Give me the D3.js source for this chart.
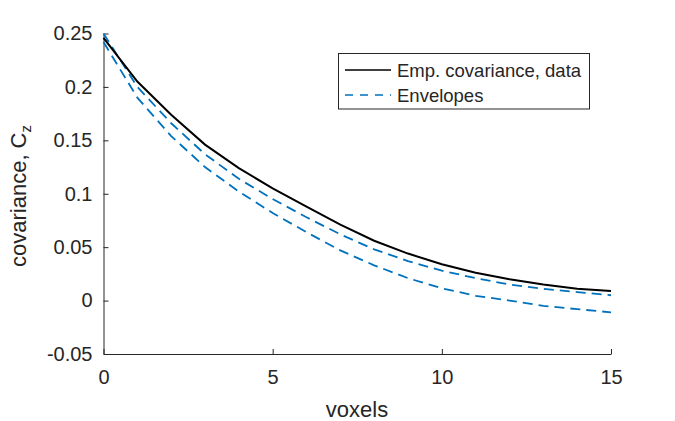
<!DOCTYPE html>
<html><head><meta charset="utf-8">
<script src="https://cdn.jsdelivr.net/npm/d3@7"></script>
<style>body{margin:0;background:#fff}svg{display:block}text{font-family:"Liberation Sans",Arial,sans-serif;fill:#262626}</style>
</head><body>
<svg id="c" width="675" height="421"></svg>
<script>
const voxels = [0,1,2,3,4,5,6,7,8,9,10,11,12,13,14,15];
const empCov = [0.246,0.205,0.174,0.146,0.124,0.105,0.088,0.071,0.056,0.044,0.034,0.026,0.020,0.015,0.011,0.009];
const envUpper = [0.250,0.200,0.166,0.137,0.114,0.095,0.078,0.062,0.048,0.037,0.028,0.021,0.015,0.011,0.008,0.005];
const envLower = [0.242,0.190,0.154,0.125,0.102,0.082,0.064,0.047,0.033,0.021,0.0115,0.0045,0.000,-0.005,-0.008,-0.011];
const xTicks = [0,5,10,15];
const yTicks = [-0.05,0,0.05,0.1,0.15,0.2,0.25];
const yTickLabels = ["-0.05","0","0.05","0.1","0.15","0.2","0.25"];

const svg = d3.select("#c");
const x = d3.scaleLinear().domain([0,15]).range([103.5,611]);
const y = d3.scaleLinear().domain([-0.05,0.25]).range([354,33.5]);
const axCol = "#262626";

const gx = svg.append("g").attr("transform","translate(0,354)")
  .call(d3.axisBottom(x).tickValues(xTicks).tickSizeInner(-5).tickSizeOuter(0).tickPadding(15.5).tickFormat(d3.format("d")));
const gy = svg.append("g").attr("transform","translate(103.5,0)")
  .call(d3.axisLeft(y).tickValues(yTicks).tickSizeInner(-5).tickSizeOuter(0).tickPadding(11).tickFormat((d,i)=>yTickLabels[i]));
[gx,gy].forEach(g=>{
  g.select(".domain").attr("stroke",axCol).attr("stroke-width",1);
  g.selectAll(".tick line").attr("stroke",axCol);
  g.selectAll(".tick text").attr("fill",axCol).style("font-size","20px").style("font-family","Liberation Sans, Arial, sans-serif");
});
gx.selectAll(".tick text").attr("dy","0.71em");

const line = d3.line().x((d,i)=>x(voxels[i])).y(d=>y(d));
svg.append("path").datum(envUpper).attr("d",line).attr("fill","none").attr("stroke","#0072BD").attr("stroke-width",1.8).attr("stroke-dasharray","10,6");
svg.append("path").datum(envLower).attr("d",line).attr("fill","none").attr("stroke","#0072BD").attr("stroke-width",1.8).attr("stroke-dasharray","10,6");
svg.append("path").datum(empCov).attr("d",line).attr("fill","none").attr("stroke","#000").attr("stroke-width",2);

// axis labels
svg.append("text").attr("x",357).attr("y",416.5).attr("text-anchor","middle").style("font-size","22px").text("voxels");
const yl = svg.append("text").attr("transform","translate(26,196) rotate(-90)").attr("text-anchor","middle").style("font-size","22px");
yl.append("tspan").text("covariance, C");
yl.append("tspan").attr("dy","5").style("font-size","15px").text("z");

// legend
const lg = svg.append("g");
lg.append("rect").attr("x",338.5).attr("y",53.5).attr("width",251).attr("height",55.5).attr("fill","#fff").attr("stroke",axCol).attr("stroke-width",1);
lg.append("line").attr("x1",345).attr("x2",391).attr("y1",70).attr("y2",70).attr("stroke","#000").attr("stroke-width",1.5);
lg.append("line").attr("x1",345).attr("x2",391).attr("y1",95).attr("y2",95).attr("stroke","#0072BD").attr("stroke-width",1.5).attr("stroke-dasharray","8,7");
lg.append("text").attr("x",397).attr("y",76.5).style("font-size","18.5px").attr("fill","#000").text("Emp. covariance, data");
lg.append("text").attr("x",397).attr("y",101.5).style("font-size","18.5px").attr("fill","#000").text("Envelopes");
</script>
</body></html>
